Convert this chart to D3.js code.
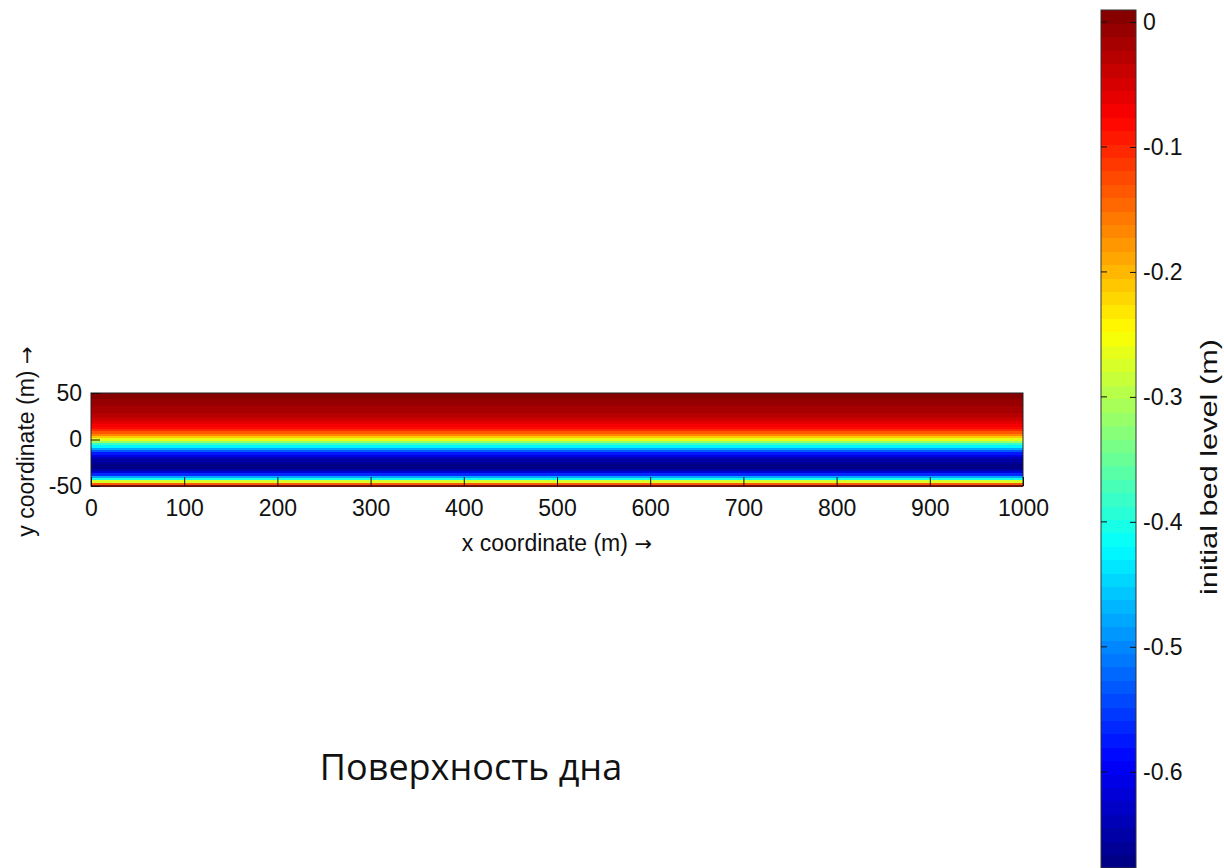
<!DOCTYPE html>
<html>
<head>
<meta charset="utf-8">
<script src="https://cdn.jsdelivr.net/npm/d3@7"></script>
<style>
  body { margin: 0; background: #fff; }
  text { font-family: "Liberation Sans", Arial, sans-serif; }
</style>
</head>
<body>
<div id="chart"></div>
<script>
// bed level profile across the channel (same for every x)
const yCells = [50, 47.5, 45, 42.5, 40, 37.5, 35, 32.5, 30, 27.5, 25, 22.5, 20, 17.5, 15, 12.5, 10, 7.5, 5, 2.5, 0,
  -2.5, -5, -7.5, -10, -12.5, -15, -17.5, -20, -22.5, -25, -27.5, -30, -32.5, -35, -37.5, -40, -42.5, -45, -47.5, -50];
const bedLevel = [0.005, 0.003, 0.0, -0.002, -0.005, -0.008, -0.012, -0.016, -0.02, -0.025, -0.03, -0.037, -0.045, -0.055,
  -0.068, -0.085, -0.105, -0.13, -0.165, -0.21, -0.26, -0.32, -0.38, -0.43, -0.48, -0.53, -0.57, -0.61, -0.635, -0.655,
  -0.665, -0.67, -0.668, -0.655, -0.62, -0.56, -0.48, -0.4, -0.28, -0.14, -0.03];
const xTicks = [0, 100, 200, 300, 400, 500, 600, 700, 800, 900, 1000];
const yTicks = [-50, 0, 50];
const cTicks = [0, -0.1, -0.2, -0.3, -0.4, -0.5, -0.6];
const cLimits = [-0.677, 0.0096];
const nColors = 64;

const W = 1224, H = 868;
const FS = 23;
const svg = d3.select("#chart").append("svg").attr("width", W).attr("height", H);

// jet colormap, 64 levels
function jet(t) {
  const c = v => Math.max(0, Math.min(1, v));
  const r = c(1.5 - Math.abs(4 * t - 3)), g = c(1.5 - Math.abs(4 * t - 2)), b = c(1.5 - Math.abs(4 * t - 1));
  return d3.rgb(r * 255, g * 255, b * 255).toString();
}
const level = d3.scaleQuantize().domain(cLimits).range(d3.range(nColors));
const color = v => jet((level(v) + 0.5) / nColors);
const fmt = d => String(d).replace("\u2212", "-");

// main axes
const plot = { left: 91, right: 1023, top: 393, bottom: 486 };
const x = d3.scaleLinear().domain([0, 1000]).range([plot.left, plot.right]);
const y = d3.scaleLinear().domain([-50, 50]).range([plot.bottom, plot.top]);

const dy = 2.5;
svg.append("g")
  .selectAll("rect")
  .data(yCells.map((v, i) => ({ y: v, z: bedLevel[i] })))
  .join("rect")
  .attr("x", x(0))
  .attr("width", x(1000) - x(0))
  .attr("y", d => y(Math.min(50, d.y + dy / 2)))
  .attr("height", d => y(Math.max(-50, d.y - dy / 2)) - y(Math.min(50, d.y + dy / 2)) + 0.5)
  .attr("fill", d => color(d.z))
  .attr("shape-rendering", "crispEdges");

svg.append("rect")
  .attr("x", plot.left).attr("y", plot.top)
  .attr("width", plot.right - plot.left).attr("height", plot.bottom - plot.top)
  .attr("fill", "none").attr("stroke", "#222").attr("stroke-width", 1);

const xAxis = svg.append("g")
  .attr("transform", `translate(0,${plot.bottom})`)
  .call(d3.axisBottom(x).tickValues(xTicks).tickSize(-9).tickSizeOuter(0).tickPadding(14).tickFormat(fmt));
const yAxis = svg.append("g")
  .attr("transform", `translate(${plot.left},0)`)
  .call(d3.axisLeft(y).tickValues(yTicks).tickSize(-9).tickSizeOuter(0).tickPadding(9).tickFormat(fmt));
[xAxis, yAxis].forEach(a => {
  a.select(".domain").remove();
  a.selectAll("line").attr("stroke", "#111");
  a.selectAll("text").attr("font-size", FS).attr("fill", "#111")
    .attr("font-family", "'Liberation Sans', Arial, sans-serif");
});
xAxis.selectAll("text").attr("dy", "0.71em");

function axisLabel(sel, label) {
  sel.append("tspan").text(label);
  sel.append("tspan").attr("font-family", "'DejaVu Sans', sans-serif").attr("font-size", FS - 2).text(" \u2192");
}
svg.append("text")
  .attr("x", (plot.left + plot.right) / 2).attr("y", 551)
  .attr("text-anchor", "middle").attr("font-size", FS).attr("fill", "#111")
  .call(axisLabel, "x coordinate (m)");
svg.append("text")
  .attr("transform", `translate(34,${(plot.top + plot.bottom) / 2 + 2}) rotate(-90)`)
  .attr("text-anchor", "middle").attr("font-size", FS).attr("fill", "#111")
  .call(axisLabel, "y coordinate (m)");

// colorbar
const cb = { left: 1101, right: 1136, top: 10, bottom: 868 };
const cy = d3.scaleLinear().domain(cLimits).range([cb.bottom, cb.top]);
const step = (cLimits[1] - cLimits[0]) / nColors;
svg.append("g")
  .selectAll("rect")
  .data(d3.range(nColors))
  .join("rect")
  .attr("x", cb.left)
  .attr("width", cb.right - cb.left)
  .attr("y", i => cy(cLimits[0] + (i + 1) * step))
  .attr("height", i => cy(cLimits[0] + i * step) - cy(cLimits[0] + (i + 1) * step) + 0.5)
  .attr("fill", i => jet((i + 0.5) / nColors))
  .attr("shape-rendering", "crispEdges");
svg.append("rect")
  .attr("x", cb.left).attr("y", cb.top)
  .attr("width", cb.right - cb.left).attr("height", cb.bottom - cb.top)
  .attr("fill", "none").attr("stroke", "#333").attr("stroke-width", 1);

const cAxis = svg.append("g")
  .attr("transform", `translate(${cb.right},0)`)
  .call(d3.axisRight(cy).tickValues(cTicks).tickSize(-6).tickSizeOuter(0).tickPadding(7)
    .tickFormat(d => d === 0 ? "0" : d3.format(".1f")(d).replace("\u2212", "-")));
cAxis.select(".domain").remove();
cAxis.selectAll("line").attr("stroke", "#111");
cAxis.selectAll("text").attr("font-size", FS).attr("fill", "#111")
  .attr("font-family", "'Liberation Sans', Arial, sans-serif");
svg.append("g").selectAll("line").data(cTicks).join("line")
  .attr("x1", cb.left).attr("x2", cb.left + 6)
  .attr("y1", d => cy(d)).attr("y2", d => cy(d))
  .attr("stroke", "#111");

svg.append("text")
  .attr("transform", `translate(1217,467) rotate(-90)`)
  .attr("text-anchor", "middle").attr("font-size", 24).attr("fill", "#111")
  .attr("textLength", 256).attr("lengthAdjust", "spacingAndGlyphs")
  .text("initial bed level (m)");

// caption
svg.append("text")
  .attr("x", 471).attr("y", 780)
  .attr("text-anchor", "middle").attr("font-size", 36).attr("fill", "#111")
  .style("font-family", "'Open Sans', 'Noto Sans', sans-serif")
  .text("Поверхность дна");
</script>
</body>
</html>
